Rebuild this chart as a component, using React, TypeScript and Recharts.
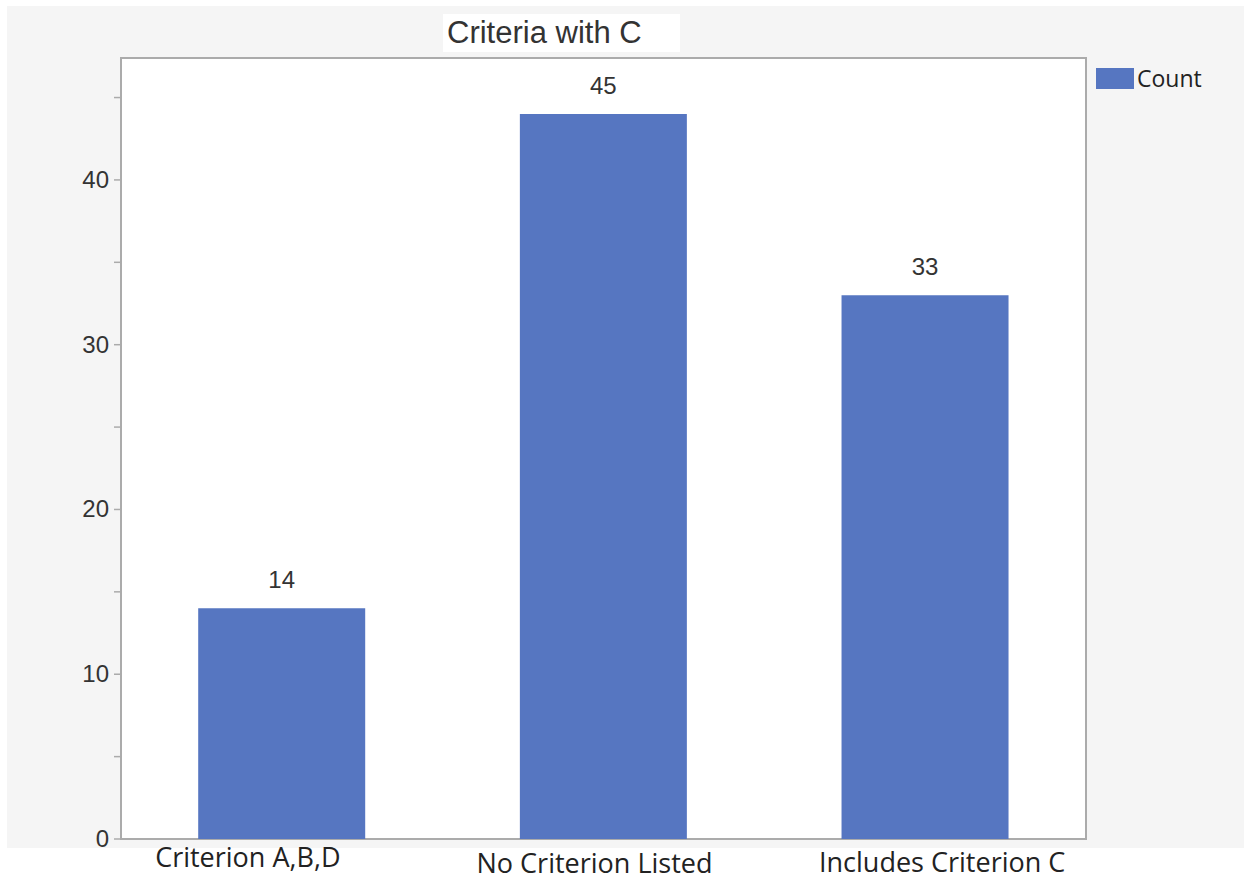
import React from 'react';
import { BarChart, Bar, XAxis, YAxis, LabelList } from 'recharts';

// values (middle bar is drawn at 44 though its label says 45)
const categories = ['Criterion A,B,D', 'No Criterion Listed', 'Includes Criterion C'];
const counts = [14, 44, 33];
const countLabels = ['14', '45', '33'];
const yTicks = [0, 5, 10, 15, 20, 25, 30, 35, 40, 45];

const data = categories.map((name, i) => ({ name, count: counts[i], label: countLabels[i] }));

const BAR_COLOR = '#5676c1';
const AXIS_COLOR = '#ababab';

// the category labels in the source are not exactly centered under the bars
const xLabelShift = [-34, -9, 17];
const xLabelDrop = [20, 26, 25];

const YTick = ({ x, y, payload }: any) => {
  if (payload.value % 10 !== 0) return null;
  return (
    <text x={x - 3} y={y} dy={8} textAnchor="end" fontFamily="Arial, 'Liberation Sans'" fontSize={24} fill="#333">
      {payload.value}
    </text>
  );
};

const XTick = ({ x, y, payload, index }: any) => (
  <text
    x={x + xLabelShift[index]}
    y={y + xLabelDrop[index]}
    textAnchor="middle"
    fontFamily="'Open Sans', 'Noto Sans'"
    fontSize={27}
    fill="#222"
  >
    {payload.value}
  </text>
);

const TopLabel = ({ x, y, width, index }: any) => (
  <text
    x={x + width / 2}
    y={y - 20}
    textAnchor="middle"
    fontFamily="Arial, 'Liberation Sans'"
    fontSize={24}
    fill="#333"
  >
    {countLabels[index]}
  </text>
);

export default function App() {
  return (
    <div style={{ position: 'absolute', left: 0, top: 0, width: 1244, height: 882, background: '#fff', overflow: 'hidden' }}>
      <div style={{ position: 'absolute', left: 7, top: 6, width: 1237, height: 842, background: '#f5f5f5' }} />
      <div
        style={{
          position: 'absolute',
          left: 443,
          top: 14,
          width: 237,
          height: 38,
          background: '#fff',
          fontFamily: "Arial, 'Liberation Sans'",
          fontSize: 31,
          color: '#333',
          lineHeight: '38px',
          paddingLeft: 4,
          boxSizing: 'border-box',
          whiteSpace: 'nowrap',
        }}
      >
        Criteria with C
      </div>
      <div
        style={{
          position: 'absolute',
          left: 120,
          top: 57,
          width: 967,
          height: 783,
          background: '#fff',
          border: `2px solid ${AXIS_COLOR}`,
          boxSizing: 'border-box',
        }}
      />
      {/* legend */}
      <div
        style={{
          position: 'absolute',
          left: 1096,
          top: 62,
          display: 'flex',
          alignItems: 'center',
          fontFamily: "'Open Sans', 'Noto Sans'",
          fontSize: 23,
          color: '#222',
        }}
      >
        <div style={{ width: 38, height: 21, background: BAR_COLOR, marginRight: 3 }} />
        <span>Count</span>
      </div>
      <div style={{ position: 'absolute', left: 0, top: 0 }}>
        <BarChart width={1244} height={882} data={data} margin={{ top: 58, right: 158, bottom: 13, left: 61 }} barCategoryGap="24%">
          <XAxis dataKey="name" height={30} axisLine={false} tickLine={false} tick={<XTick />} interval={0} />
          <YAxis
            width={60}
            domain={[0, 47.4]}
            ticks={yTicks}
            interval={0}
            allowDataOverflow
            axisLine={false}
            tickSize={7}
            tickLine={{ stroke: AXIS_COLOR, strokeWidth: 1.5 }}
            tick={<YTick />}
          />
          <Bar dataKey="count" name="Count" fill={BAR_COLOR} isAnimationActive={false}>
            <LabelList dataKey="label" content={<TopLabel />} />
          </Bar>
        </BarChart>
      </div>
    </div>
  );
}
